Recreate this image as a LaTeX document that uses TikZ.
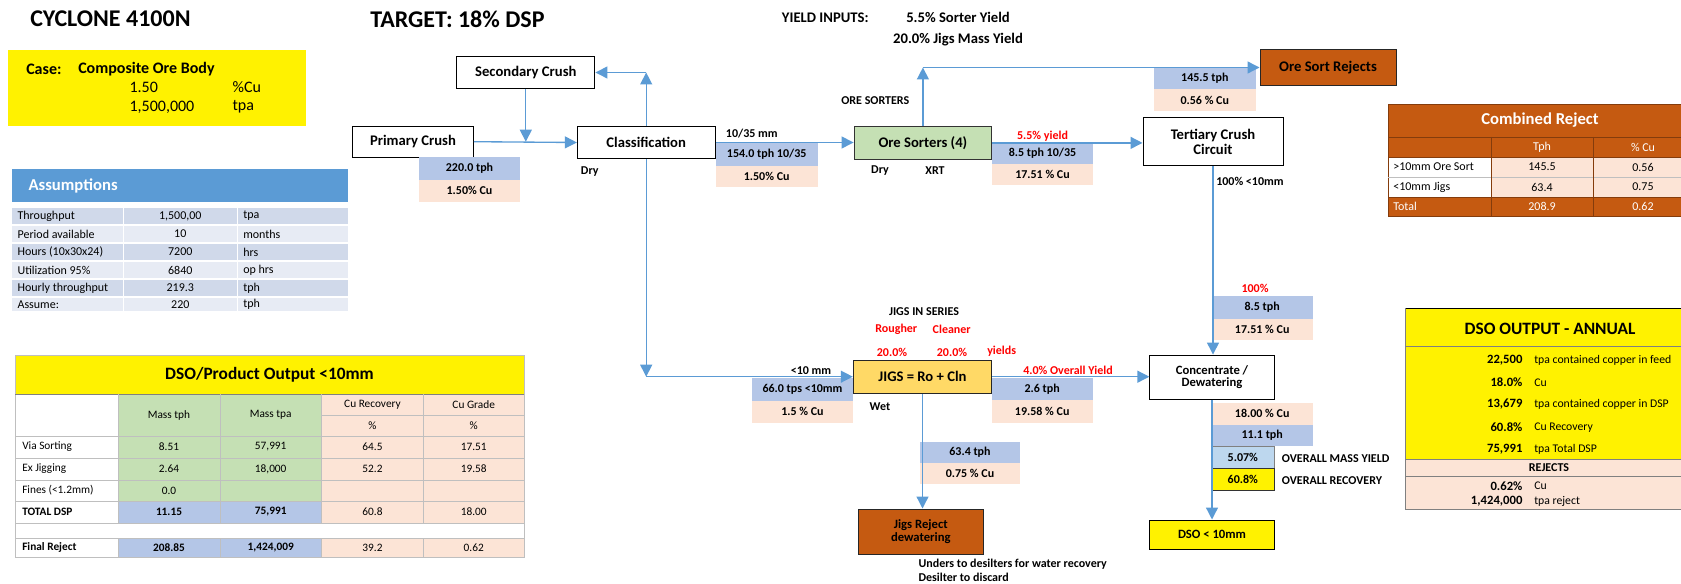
\documentclass[tikz,border=0pt]{standalone}
\usepackage{fontspec}
\setmainfont{Carlito}
\usetikzlibrary{positioning, arrows.meta, calc}

\definecolor{flowblue}{HTML}{5B9BD5}
\definecolor{tphblue}{HTML}{B4C6E7}
\definecolor{cupink}{HTML}{FCE4D6}
\definecolor{sortgreen}{HTML}{C5E0B4}
\definecolor{jiggold}{HTML}{FFD966}
\definecolor{rejbrown}{HTML}{C55A11}
\definecolor{rejdark}{HTML}{843C0C}
\definecolor{asdark}{HTML}{D0D9EA}
\definecolor{aslight}{HTML}{E7EBF4}
\definecolor{yieldblue}{HTML}{BDD7EE}
\definecolor{gridgray}{HTML}{BFBFBF}

\newcommand{\ptsize}[1]{\fontsize{#1}{#1}\selectfont}

\tikzset{
  wh/.style 2 args={minimum width=#1*0.75pt, minimum height=#2*0.75pt},
  unitbox/.style={draw=black, line width=0.75pt, fill=white, inner sep=0pt,
    align=center, font=\ptsize{11}\bfseries},
  tphcell/.style={fill=tphblue, inner sep=0pt, font=\ptsize{9}\bfseries},
  cucell/.style={fill=cupink, inner sep=0pt, font=\ptsize{9}\bfseries},
  flow/.style={draw=flowblue, line width=1pt, -{Triangle[length=9pt, width=9pt]}},
  note/.style={font=\ptsize{9}\bfseries, inner sep=0pt},
  rednote/.style={note, text=red},
  tabtxt/.style={font=\ptsize{8.5}, inner sep=0pt},
}

\begin{document}
\begin{tikzpicture}[x=0.75pt, y=-0.75pt]
  \useasboundingbox (0,0) rectangle (1681,584);

  % --- Titles ---
  \node[anchor=west, inner sep=0pt, font=\ptsize{18}\bfseries] (ttl) at (30,19) {CYCLONE 4100N};
  \node[anchor=west, inner sep=0pt, font=\ptsize{18}\bfseries] (tgt) at (370,19) {TARGET: 18\% DSP};
  \node[anchor=west, inner sep=0pt, font=\ptsize{11}\bfseries] (yin) at (781.7,17.3) {YIELD INPUTS:};
  \node[inner sep=0pt, font=\ptsize{11}\bfseries] (ysort) at (958,17.3) {5.5\% Sorter Yield};
  \node[inner sep=0pt, font=\ptsize{11}\bfseries] (yjig) at (958,39.3) {20.0\% Jigs Mass Yield};

  % --- Case box ---
  \fill[yellow] (7.5,50) rectangle (305.5,126.5);
  \node[anchor=west, inner sep=0pt, font=\ptsize{12}\bfseries] at (26,69) {Case:};
  \node[anchor=west, inner sep=0pt, font=\ptsize{12}\bfseries] at (78,69) {Composite Ore Body};
  \node[anchor=west, inner sep=0pt, font=\ptsize{12}] at (129.3,87) {1.50};
  \node[anchor=west, inner sep=0pt, font=\ptsize{12}] at (232.3,87) {\%Cu};
  \node[anchor=west, inner sep=0pt, font=\ptsize{12}] at (129.3,107) {1,500,000};
  \node[anchor=west, inner sep=0pt, font=\ptsize{12}] at (232.3,107) {tpa};

  % --- Assumptions table ---
  \fill[flowblue] (11.7,169.3) rectangle (348.3,201.7);
  \node[anchor=west, inner sep=0pt, text=white, font=\ptsize{12.5}\bfseries] at (28.3,185.5) {Assumptions};
  \foreach \ya/\yb/\shade/\lab/\val/\unit in {
      208/224/asdark/Throughput/{1,500,00}/tpa,
      226/242/aslight/Period available/10/months,
      244/260/asdark/Hours (10x30x24)/7200/hrs,
      262/278/aslight/Utilization 95\%/6840/op hrs,
      280/296/asdark/Hourly throughput/219.3/tph,
      298/311/aslight/Assume:/220/tph}{
    \fill[\shade] (11.7,\ya) rectangle (122.5,\yb);
    \fill[\shade] (124,\ya) rectangle (236.5,\yb);
    \fill[\shade] (238,\ya) rectangle (348.3,\yb);
    \node[anchor=west, inner sep=0pt, font=\ptsize{9}] at (17.3,{(\ya+\yb)/2}) {\lab};
    \node[inner sep=0pt, font=\ptsize{9}] at (180.3,{(\ya+\yb)/2}) {\val};
    \node[anchor=west, inner sep=0pt, font=\ptsize{9}] at (243,{(\ya+\yb)/2}) {\unit};
  }

  % --- DSO/Product table ---
  \fill[yellow] (15,355) rectangle (524,394);
  \fill[sortgreen] (118,394) rectangle (321.5,501);
  \fill[cupink] (321.5,394) rectangle (524,523);
  \fill[tphblue] (118,501) rectangle (321.5,523);
  \fill[tphblue] (118,538) rectangle (321.5,557);
  \fill[cupink] (321.5,538) rectangle (524,557);
  \draw[gridgray] (15,355) rectangle (524,557);
  \draw[gray] (15,394) -- (524,394);
  \foreach \yy in {436,458,480,501,523,538}
    \draw[gridgray] (15,\yy) -- (524,\yy);
  \draw[gridgray] (321.5,415) -- (524,415);
  \foreach \xx in {118,220,321.5,423.5}{
    \draw[gridgray] (\xx,394) -- (\xx,523);
    \draw[gridgray] (\xx,538) -- (\xx,557);
  }
  \node[inner sep=0pt, font=\ptsize{13}\bfseries] at (269.5,374.5) {DSO/Product Output <10mm};
  \node[tabtxt] at (169,415) {Mass tph};
  \node[tabtxt] at (270.7,415) {Mass tpa};
  \node[tabtxt] at (372.5,404.5) {Cu Recovery};
  \node[tabtxt] at (372.5,425.5) {\%};
  \node[tabtxt] at (473.7,404.5) {Cu Grade};
  \node[tabtxt] at (473.7,425.5) {\%};
  \foreach \ry/\lab/\mtph/\mtpa/\rec/\grd in {
      447/Via Sorting/8.51/{57,991}/64.5/17.51,
      469/Ex Jigging/2.64/{18,000}/52.2/19.58,
      490.5/Fines (<1.2mm)/0.0/{}/{}/{}}{
    \node[tabtxt, anchor=west] at (22,\ry) {\lab};
    \node[tabtxt] at (169,\ry) {\mtph};
    \node[tabtxt] at (270.7,\ry) {\mtpa};
    \node[tabtxt] at (372.5,\ry) {\rec};
    \node[tabtxt] at (473.7,\ry) {\grd};
  }
  \node[tabtxt, anchor=west, font=\ptsize{8.5}\bfseries] at (22,512) {TOTAL DSP};
  \node[tabtxt, font=\ptsize{8.5}\bfseries] at (169,512) {11.15};
  \node[tabtxt, font=\ptsize{8.5}\bfseries] at (270.7,512) {75,991};
  \node[tabtxt] at (372.5,512) {60.8};
  \node[tabtxt] at (473.7,512) {18.00};
  \node[tabtxt, anchor=west, font=\ptsize{8.5}\bfseries] at (22,547.5) {Final Reject};
  \node[tabtxt, font=\ptsize{8.5}\bfseries] at (169,547.5) {208.85};
  \node[tabtxt, font=\ptsize{8.5}\bfseries] at (270.7,547.5) {1,424,009};
  \node[tabtxt] at (372.5,547.5) {39.2};
  \node[tabtxt] at (473.7,547.5) {0.62};

  % --- Combined Reject table ---
  \fill[rejbrown] (1388,104) rectangle (1681,157);
  \fill[cupink] (1491,157) rectangle (1681,197);
  \fill[rejbrown] (1388,197) rectangle (1681,216);
  \draw[rejdark] (1388,104) rectangle (1681,216);
  \draw[rejdark] (1388,137) -- (1681,137);
  \draw[gridgray] (1388,177) -- (1681,177);
  \draw[rejdark] (1388,157) -- (1681,157);
  \draw[rejdark] (1388,197) -- (1681,197);
  \foreach \xx in {1491,1593}
    \draw[rejdark] (\xx,137) -- (\xx,216);
  \node[inner sep=0pt, text=white, font=\ptsize{12.5}\bfseries] at (1540,120.5) {Combined Reject};
  \node[tabtxt, text=white, font=\ptsize{9}] at (1542,147) {Tph};
  \node[tabtxt, text=white, font=\ptsize{9}] at (1643,147) {\% Cu};
  \node[tabtxt, anchor=west, font=\ptsize{9}] at (1393,167) {>10mm Ore Sort};
  \node[tabtxt, font=\ptsize{9}] at (1542,167) {145.5};
  \node[tabtxt, font=\ptsize{9}] at (1643,167) {0.56};
  \node[tabtxt, anchor=west, font=\ptsize{9}] at (1393,187) {<10mm Jigs};
  \node[tabtxt, font=\ptsize{9}] at (1542,187) {63.4};
  \node[tabtxt, font=\ptsize{9}] at (1643,187) {0.75};
  \node[tabtxt, anchor=west, text=white, font=\ptsize{9}] at (1393,206.5) {Total};
  \node[tabtxt, text=white, font=\ptsize{9}] at (1542,206.5) {208.9};
  \node[tabtxt, text=white, font=\ptsize{9}] at (1643,206.5) {0.62};

  % --- DSO output annual ---
  \fill[yellow] (1405,308.3) rectangle (1681,459.3);
  \fill[cupink] (1405,459.3) rectangle (1681,509.3);
  \draw[black] (1405,308.3) -- (1681,308.3);
  \draw[gray] (1405,308.3) -- (1405,509.3) -- (1681,509.3);
  \foreach \yy in {346,459.3,476}
    \draw[gray] (1405,\yy) -- (1681,\yy);
  \node[inner sep=0pt, font=\ptsize{13}\bfseries] at (1550,329) {DSO OUTPUT - ANNUAL};
  \foreach \ry/\num/\txt in {360/{22,500}/tpa contained copper in feed,
      382.3/18.0\%/Cu, 404.3/{13,679}/tpa contained copper in DSP,
      427.3/60.8\%/Cu Recovery, 449/{75,991}/tpa Total DSP,
      485.7/0.62\%/Cu, 501.7/{1,424,000}/tpa reject}{
    \node[anchor=east, inner sep=0pt, font=\ptsize{9.5}\bfseries] at (1522.7,\ry) {\num};
    \node[anchor=west, inner sep=0pt, font=\ptsize{8.8}] at (1534,\ry) {\txt};
  }
  \node[note] at (1549,468) {REJECTS};

  % --- Process units ---
  \node[unitbox, wh={120.6}{31.3}] (prim) at (413,141.7) {Primary Crush};
  \node[unitbox, wh={138.3}{31.6}] (sec) at (525.8,72.5) {Secondary Crush};
  \node[unitbox, wh={137.7}{31.6}] (class) at (646.2,142.5) {Classification};
  \node[unitbox, fill=sortgreen, draw=black!80, wh={137.7}{32.3}] (ore) at (922.9,142.9) {Ore Sorters (4)};
  \node[unitbox, fill=rejbrown, draw=black!85, wh={136}{36}] (osrej) at (1328,67.5) {Ore Sort Rejects};
  \node[unitbox, wh={140}{48}] (tert) at (1213,142) {Tertiary Crush\\Circuit};
  \node[unitbox, fill=jiggold, draw=black!85, wh={138.4}{33.3}] (jigs) at (922.5,376.7) {JIGS = Ro + Cln};
  \node[unitbox, fill=rejbrown, draw=black!85, wh={125}{45}, font=\ptsize{9.5}\bfseries] (jrej) at (920.8,531.5) {Jigs Reject\\dewatering};
  \node[unitbox, wh={124.3}{44.3}, font=\ptsize{9.5}\bfseries] (conc) at (1212,377.2) {Concentrate /\\Dewatering};
  \node[unitbox, fill=yellow, wh={124.3}{29}, font=\ptsize{9.5}\bfseries] (dso) at (1212,534.5) {DSO < 10mm};

  % --- Stream data cells ---
  \node[tphcell, wh={101}{22.7}] (t220) at (469.5,168.7) {220.0 tph};
  \node[cucell, wh={101}{21.7}] (c220) at (469.5,190.8) {1.50\% Cu};
  \node[tphcell, wh={102}{23}] (t154) at (766.7,154.2) {154.0 tph 10/35};
  \node[cucell, wh={102}{21.6}] (c154) at (766.7,176.5) {1.50\% Cu};
  \node[tphcell, wh={100.4}{22.3}] (t85a) at (1042.5,152.9) {8.5 tph 10/35};
  \node[cucell, wh={100.4}{21}] (c85a) at (1042.5,174.5) {17.51 \% Cu};
  \node[tphcell, wh={102.5}{22}] (t145) at (1204.8,78.5) {145.5 tph};
  \node[cucell, wh={102.5}{21.5}] (c145) at (1204.8,100.2) {0.56 \% Cu};
  \node[tphcell, wh={101}{23}] (t85b) at (1262.2,307.5) {8.5 tph};
  \node[cucell, wh={101}{21}] (c85b) at (1262.2,329.5) {17.51 \% Cu};
  \node[tphcell, wh={101.6}{22.7}] (t66) at (802.5,389.7) {66.0 tps <10mm};
  \node[cucell, wh={101.6}{21.7}] (c66) at (802.5,411.8) {1.5 \% Cu};
  \node[tphcell, wh={101}{22.3}] (t26) at (1042.2,388.8) {2.6 tph};
  \node[cucell, wh={101}{22.7}] (c26) at (1042.2,411.3) {19.58 \% Cu};
  \node[tphcell, wh={100}{21.6}] (t634) at (970,452.5) {63.4 tph};
  \node[cucell, wh={100}{21}] (c634) at (970,473.8) {0.75 \% Cu};
  \node[cucell, wh={101}{22.3}] (c18) at (1262.2,413.8) {18.00 \% Cu};
  \node[tphcell, wh={101}{21}] (t111) at (1262.2,435.5) {11.1 tph};
  \node[tphcell, fill=yieldblue, draw=gray, wh={62.3}{22.7}] (myield) at (1242.8,457.3) {5.07\%};
  \node[tphcell, fill=yellow, draw=black!80, wh={62.3}{21.3}] (mrec) at (1242.8,479.3) {60.8\%};

  % --- Stream notes ---
  \node[note, anchor=west] (n1035) at (725.7,134) {10/35 mm};
  \node[note, anchor=west] (ndry1) at (580.7,171.7) {Dry};
  \node[note] (nos) at (875.3,100.7) {ORE SORTERS};
  \node[note] (ndry2) at (880,170.7) {Dry};
  \node[note] (nxrt) at (935,170.7) {XRT};
  \node[rednote] (nsy) at (1042.5,136) {5.5\% yield};
  \node[note, anchor=west] (n100a) at (1216,181.5) {100\% <10mm};
  \node[rednote] (n100b) at (1255,288.3) {100\%};
  \node[note] (njis) at (924,311.7) {JIGS IN SERIES};
  \node[rednote] (nro) at (896.3,329.3) {Rougher};
  \node[rednote] (ncl) at (951.7,329.3) {Cleaner};
  \node[rednote] (nro2) at (892,352) {20.0\%};
  \node[rednote] (ncl2) at (952,352) {20.0\%};
  \node[rednote] (nyld) at (1001.7,351) {yields};
  \node[note] (n10) at (811,370.7) {<10 mm};
  \node[note] (nwet) at (880,406.7) {Wet};
  \node[rednote] (noy) at (1068,370) {4.0\% Overall Yield};
  \node[note, anchor=west] (nund) at (918.3,564) {Unders to desilters for water recovery};
  \node[note, anchor=west] (ndes) at (918.3,577) {Desilter to discard};
  \node[note, anchor=west] (nmy) at (1281.7,458.3) {OVERALL MASS YIELD};
  \node[note, anchor=west] (nrec) at (1281.7,480.7) {OVERALL RECOVERY};

  % --- Flow connectors ---
  \draw[flow] (prim.east) -- (class.west);
  \draw[flow] (sec.south) -- (sec.south |- prim.east);
  \coordinate (cup) at (class.north |- sec.east);
  \draw[flow] (class.north) -- (cup);
  \draw[flow] (cup) -- (sec.east);
  \coordinate (cdown) at (class.south |- jigs.west);
  \draw[flow] (class.south) -- (cdown);
  \draw[flow] (cdown) -- (jigs.west);
  \draw[flow] (class.east) -- (class.east -| ore.west);
  \coordinate (oup) at (ore.north |- osrej.west);
  \draw[flow] (ore.north) -- (oup);
  \draw[flow] (oup) -- (osrej.west);
  \draw[flow] (ore.east) -- (ore.east -| tert.west);
  \draw[flow] (tert.south) -- (tert.south |- conc.north);
  \draw[flow] (jigs.east) -- (jigs.east -| conc.west);
  \draw[flow] (jigs.south) -- (jigs.south |- jrej.north);
  \draw[flow] (conc.south) -- (dso.north);

\end{tikzpicture}
\end{document}
